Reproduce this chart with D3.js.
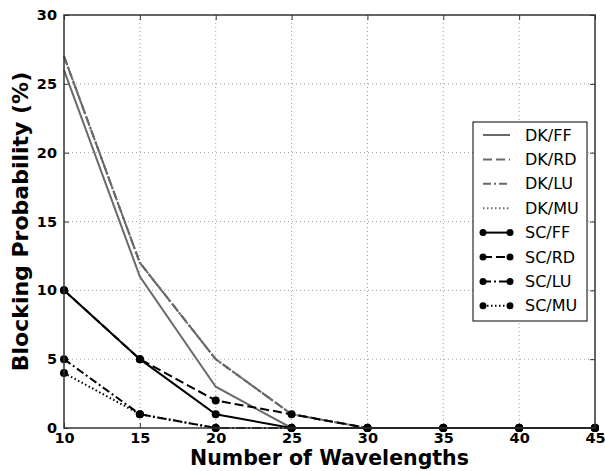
<!DOCTYPE html>
<html>
<head>
<meta charset="utf-8">
<script src="https://cdn.jsdelivr.net/npm/d3@7"></script>
<style>
  body { margin: 0; background: #fff; }
  text { font-family: "DejaVu Sans", sans-serif; }
</style>
</head>
<body>
<script>
// wavelengths on x, blocking probability (%) on y
const wavelengths = [10, 15, 20, 25, 30, 35, 40, 45];
const xTicks = [10, 15, 20, 25, 30, 35, 40, 45];
const yTicks = [0, 5, 10, 15, 20, 25, 30];

const dkFF = [26, 11, 3, 0, 0, 0, 0, 0];
const dkRD = [27, 12, 5, 1, 0, 0, 0, 0];
const dkLU = [27, 12, 5, 1, 0, 0, 0, 0];
const dkMU = [27, 12, 5, 1, 0, 0, 0, 0];
const scFF = [10, 5, 1, 0, 0, 0, 0, 0];
const scRD = [10, 5, 2, 1, 0, 0, 0, 0];
const scLU = [5, 1, 0, 0, 0, 0, 0, 0];
const scMU = [4, 1, 0, 0, 0, 0, 0, 0];

const names = ["DK/FF", "DK/RD", "DK/LU", "DK/MU", "SC/FF", "SC/RD", "SC/LU", "SC/MU"];
const seriesValues = [dkFF, dkRD, dkLU, dkMU, scFF, scRD, scLU, scMU];

const dashes = ["none", "9,4", "8,3,2,3", "1.5,2.5"];
const gray = "#6a6a6a";

const series = names.map((n, i) => ({
  name: n,
  values: seriesValues[i],
  color: i < 4 ? gray : "#000",
  dash: dashes[i % 4],
  marker: i >= 4
}));

const W = 605, H = 471;
const m = {top: 15, right: 10, bottom: 43, left: 64};

const svg = d3.select("body").append("svg")
    .attr("width", W)
    .attr("height", H);

const x = d3.scaleLinear().domain([10, 45]).range([m.left, W - m.right]);
const y = d3.scaleLinear().domain([0, 30]).range([H - m.bottom, m.top]);

// grid
svg.append("g").selectAll("line").data(xTicks.slice(1, -1))
  .enter().append("line")
    .attr("x1", d => x(d)).attr("x2", d => x(d))
    .attr("y1", y(0)).attr("y2", y(30))
    .attr("stroke", "#888").attr("stroke-width", 0.8)
    .attr("stroke-dasharray", "1,3");
svg.append("g").selectAll("line").data(yTicks.slice(1, -1))
  .enter().append("line")
    .attr("y1", d => y(d)).attr("y2", d => y(d))
    .attr("x1", x(10)).attr("x2", x(45))
    .attr("stroke", "#888").attr("stroke-width", 0.8)
    .attr("stroke-dasharray", "1,3");

// axes with inward ticks
const tickFont = g => g.selectAll("text")
    .style("font-family", "DejaVu Sans, sans-serif")
    .style("font-size", "14.5px").style("font-weight", "bold").attr("fill", "#000");

svg.append("g").attr("transform", `translate(0,${y(0)})`)
  .call(d3.axisBottom(x).tickValues(xTicks).tickSize(-5).tickPadding(5))
  .call(g => g.select(".domain").remove())
  .call(tickFont);
svg.append("g").attr("transform", `translate(${x(10)},0)`)
  .call(d3.axisLeft(y).tickValues(yTicks).tickSize(-5).tickPadding(7))
  .call(g => g.select(".domain").remove())
  .call(tickFont);
svg.append("g").attr("transform", `translate(0,${y(30)})`)
  .call(d3.axisTop(x).tickValues(xTicks).tickSize(-5).tickFormat(""))
  .call(g => g.select(".domain").remove());
svg.append("g").attr("transform", `translate(${x(45)},0)`)
  .call(d3.axisRight(y).tickValues(yTicks).tickSize(-5).tickFormat(""))
  .call(g => g.select(".domain").remove());
svg.selectAll(".tick line").attr("stroke", "#333");

// lines
const line = d3.line()
    .x((d, i) => x(wavelengths[i]))
    .y(d => y(d));

svg.append("g").selectAll("path").data(series)
  .enter().append("path")
    .attr("d", d => line(d.values))
    .attr("fill", "none")
    .attr("stroke", d => d.color)
    .attr("stroke-width", 2)
    .attr("stroke-dasharray", d => d.dash);

svg.append("g").selectAll("g").data(series.filter(s => s.marker))
  .enter().append("g")
  .selectAll("circle").data(d => d.values)
  .enter().append("circle")
    .attr("cx", (d, i) => x(wavelengths[i]))
    .attr("cy", d => y(d))
    .attr("r", 4)
    .attr("fill", "#000");

// frame
svg.append("rect")
    .attr("x", x(10)).attr("y", y(30))
    .attr("width", x(45) - x(10)).attr("height", y(0) - y(30))
    .attr("fill", "none").attr("stroke", "#333").attr("stroke-width", 1.5);

// axis titles
svg.append("text")
    .attr("x", (x(10) + x(45)) / 2).attr("y", 465)
    .attr("text-anchor", "middle")
    .style("font-size", "20.5px").style("font-weight", "bold")
    .text("Number of Wavelengths");
svg.append("text")
    .attr("transform", `translate(28,${(y(0) + y(30)) / 2}) rotate(-90)`)
    .attr("text-anchor", "middle")
    .style("font-size", "22px").style("font-weight", "bold")
    .text("Blocking Probability (%)");

// legend
const lx = 473, ly = 122, rowH = 24.4;
const legend = svg.append("g");
legend.append("rect")
    .attr("x", lx).attr("y", ly)
    .attr("width", 114).attr("height", 199)
    .attr("fill", "#fff").attr("stroke", "#000").attr("stroke-width", 1);

const item = legend.selectAll("g.item").data(series)
  .enter().append("g").attr("class", "item")
    .attr("transform", (d, i) => `translate(0,${ly + 13 + i * rowH})`);
item.append("line")
    .attr("x1", lx + 10).attr("x2", lx + 37)
    .attr("stroke", d => d.color).attr("stroke-width", 2)
    .attr("stroke-dasharray", d => d.dash);
item.filter(d => d.marker).selectAll("circle").data([lx + 10, lx + 37])
  .enter().append("circle")
    .attr("cx", d => d).attr("r", 3.5).attr("fill", "#000");
item.append("text")
    .attr("x", lx + 52).attr("dy", "0.35em")
    .style("font-size", "16px")
    .text(d => d.name);
</script>
</body>
</html>
